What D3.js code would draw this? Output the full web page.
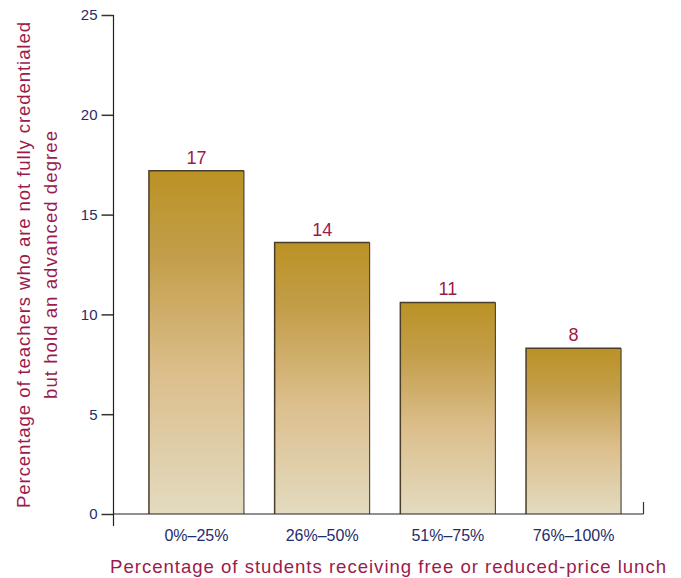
<!DOCTYPE html>
<html><head><meta charset="utf-8">
<script src="https://cdn.jsdelivr.net/npm/d3@7"></script>
<style>body{margin:0;background:#fff}svg{display:block}</style>
</head><body>
<svg id="c" width="681" height="578"></svg>
<script>
const categories = ["0%–25%", "26%–50%", "51%–75%", "76%–100%"];
const values = [17.2, 13.6, 10.6, 8.3];
const valueLabels = ["17", "14", "11", "8"];
const yTicks = [0, 5, 10, 15, 20, 25];
const yTitle = ["Percentage of teachers who are not fully credentialed", "but hold an advanced degree"];
const xTitle = "Percentage of students receiving free or reduced-price lunch";

const svg = d3.select("#c");
const font = "'Liberation Sans', Arial, sans-serif";
const navy = "#1f2d6b", maroon = "#9b1b4b";

const y = d3.scaleLinear().domain([0, 25]).range([514, 15]);
const x = d3.scaleBand().domain(categories).range([133.6, 636.4]).paddingInner(0.244).paddingOuter(0.122);

const defs = svg.append("defs");
const g = defs.append("linearGradient").attr("id", "bg").attr("x1", 0).attr("y1", 0).attr("x2", 0).attr("y2", 1);
g.append("stop").attr("offset", "0%").attr("stop-color", "#bb9225");
g.append("stop").attr("offset", "25%").attr("stop-color", "#c39e4a");
g.append("stop").attr("offset", "60%").attr("stop-color", "#dcbf8d");
g.append("stop").attr("offset", "100%").attr("stop-color", "#e3dbc0");

svg.selectAll("rect.bar").data(values).enter().append("rect")
  .attr("class", "bar")
  .attr("x", (d, i) => x(categories[i]))
  .attr("y", d => y(d))
  .attr("width", x.bandwidth())
  .attr("height", d => y(0) - y(d))
  .attr("fill", "url(#bg)");
svg.selectAll("path.edge").data(values).enter().append("path")
  .attr("fill", "none").attr("stroke", "#4a3e28").attr("stroke-width", 1.5)
  .attr("d", (d, i) => `M${x(categories[i])},${y(0)}V${y(d)}H${x(categories[i]) + x.bandwidth()}`);
svg.selectAll("path.redge").data(values).enter().append("path")
  .attr("fill", "none").attr("stroke", "#333").attr("stroke-width", 1)
  .attr("d", (d, i) => `M${x(categories[i]) + x.bandwidth()},${y(d)}V${y(0)}`);

svg.selectAll("text.val").data(values).enter().append("text")
  .attr("x", (d, i) => x(categories[i]) + x.bandwidth() / 2)
  .attr("y", d => y(d) - 7)
  .attr("text-anchor", "middle")
  .attr("font-family", font).attr("font-size", 18).attr("fill", maroon)
  .text((d, i) => valueLabels[i]);

const yAxis = svg.append("g").attr("transform", "translate(113.5,0)")
  .call(d3.axisLeft(y).tickValues(yTicks).tickSize(12).tickPadding(4));
yAxis.select(".domain").remove();
yAxis.selectAll(".tick line").attr("stroke", "#333").attr("stroke-width", 1.5);
yAxis.selectAll(".tick text").attr("font-family", font).attr("font-size", 15).attr("fill", navy);
svg.append("line").attr("x1", 113.5).attr("x2", 113.5).attr("y1", 15).attr("y2", 526)
  .attr("stroke", "#222").attr("stroke-width", 1.2);

svg.append("line").attr("x1", 113).attr("x2", 643.5).attr("y1", y(0)).attr("y2", y(0))
  .attr("stroke", "#222").attr("stroke-width", 1.2);
svg.append("line").attr("x1", 643.5).attr("x2", 643.5).attr("y1", 502).attr("y2", y(0))
  .attr("stroke", "#333").attr("stroke-width", 1.2);
const xAxis = svg.append("g").attr("transform", `translate(0,${y(0)})`)
  .call(d3.axisBottom(x).tickSize(0).tickPadding(16));
xAxis.select(".domain").remove();
xAxis.selectAll(".tick text").attr("font-family", font).attr("font-size", 16).attr("fill", navy);

svg.append("text").attr("x", 110).attr("y", 573)
  .attr("font-family", font).attr("font-size", 18.6).attr("fill", maroon)
  .attr("textLength", 556).attr("lengthAdjust", "spacing").text(xTitle);
const yt = svg.append("g").attr("transform", "translate(0,265) rotate(-90)");
const yLens = [486, 268];
yTitle.forEach((t, i) => yt.append("text")
  .attr("x", -yLens[i] / 2).attr("y", 29.5 + i * 27)
  .attr("font-family", font).attr("font-size", 18.6).attr("fill", maroon)
  .attr("textLength", yLens[i]).attr("lengthAdjust", "spacing").text(t));
</script>
</body></html>
